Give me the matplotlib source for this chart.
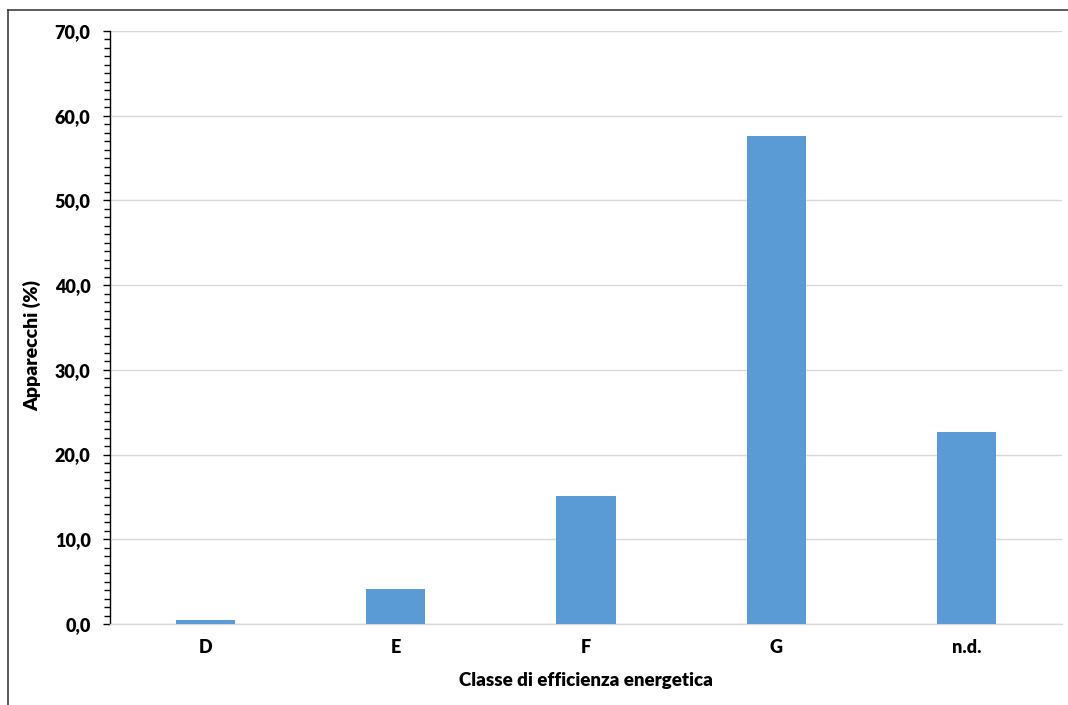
import matplotlib.pyplot as plt
from matplotlib.ticker import MultipleLocator, FuncFormatter
from matplotlib.lines import Line2D

classes = ["D", "E", "F", "G", "n.d."]
percent = [0.5, 4.1, 15.1, 57.6, 22.7]

plt.rcParams["font.family"] = ["Lato", "DejaVu Sans"]
plt.rcParams["font.weight"] = "heavy"

fig = plt.figure(figsize=(10.68, 7.05), dpi=100)
ax = fig.add_axes([110 / 1068, 1 - 624 / 705, 952 / 1068, 593 / 705])

x = range(len(classes))
ax.bar(x, percent, width=0.31, color="#5B9BD5", zorder=3)

ax.set_xlim(-0.5, len(classes) - 0.5)
ax.set_ylim(0, 70)
ax.yaxis.set_major_locator(MultipleLocator(10))
ax.yaxis.set_minor_locator(MultipleLocator(1))
ax.yaxis.set_major_formatter(FuncFormatter(lambda v, p: f"{v:.1f}".replace(".", ",")))
ax.set_xticks(list(x))
ax.set_xticklabels(classes)

ax.grid(axis="y", color="#D9D9D9", linewidth=1, zorder=0)
for s in ["top", "right"]:
    ax.spines[s].set_visible(False)
ax.spines["left"].set_color("black")
ax.spines["left"].set_linewidth(1)
ax.spines["bottom"].set_color("#D9D9D9")
ax.spines["bottom"].set_linewidth(1)

ax.tick_params(axis="y", which="major", length=5, width=1, labelsize=13, pad=9)
ax.tick_params(axis="y", which="minor", length=4, width=1)
ax.tick_params(axis="x", length=0, labelsize=13, pad=11)

ax.set_ylabel("Apparecchi (%)", fontsize=14, fontweight="heavy")
ax.yaxis.set_label_coords((41 - 110) / 952, (624 - 346) / 593)
ax.set_xlabel("Classe di efficienza energetica", fontsize=13.5, fontweight="heavy", labelpad=11)

# outer frame lines (left and top)
fig.add_artist(Line2D([8 / 1068, 8 / 1068], [0, 1 - 10 / 705], color="#404040", linewidth=1.2))
fig.add_artist(Line2D([8 / 1068, 1], [1 - 10 / 705, 1 - 10 / 705], color="#404040", linewidth=1.2))

fig.savefig("out.png", dpi=100)
